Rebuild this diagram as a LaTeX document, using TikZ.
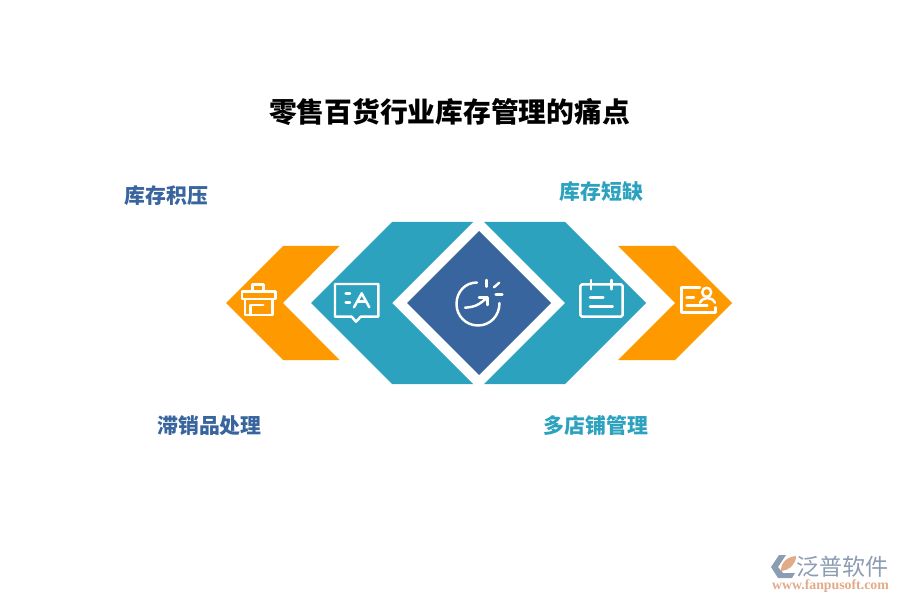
\documentclass[tikz,border=0pt]{standalone}
\usepackage{fontspec}
\setmainfont{Noto Sans CJK SC}
\newfontfamily\urlfont{Liberation Serif}
\usepackage{xcolor}
\definecolor{fporange}{RGB}{255,153,0}
\definecolor{fpteal}{RGB}{44,162,191}
\definecolor{fpblue}{RGB}{56,101,158}
\definecolor{fpgrey}{RGB}{140,156,178}
\definecolor{fptan}{RGB}{226,170,135}
\tikzstyle{painlabel} = [font=\fontsize{17.8}{20}\selectfont\bfseries, inner sep=0pt]
\tikzstyle{iconline} = [draw=white, line width=2.1pt, line cap=round, line join=round]
\begin{document}
\begin{tikzpicture}[x=0.03cm, y=-0.03cm]
\useasboundingbox (0,0) rectangle (900,600);

% Title
\node[font=\fontsize{23.7}{26}\selectfont\bfseries, inner sep=0pt] (title) at (449.5,112) {零售百货行业库存管理的痛点};

% Shapes
\fill[fporange] (226,303) -- (283,246) -- (339.5,246) -- (283,303) -- (339.5,360) -- (283,360) -- cycle;
\fill[fpteal] (311,303) -- (392,222) -- (473,222) -- (392,303) -- (473,384) -- (392,384) -- cycle;
\fill[fpblue] (479,231) -- (551,303) -- (479,375) -- (407,303) -- cycle;
\fill[fpteal] (646,303) -- (565,222) -- (484,222) -- (565,303) -- (484,384) -- (565,384) -- cycle;
\fill[fporange] (732,303) -- (675,246) -- (618,246) -- (675,303) -- (618,360) -- (675,360) -- cycle;

% Labels
\node[painlabel, text=fpblue] (overstock) at (166.5,196) {库存积压};
\node[painlabel, text=fpteal] (shortage) at (601.5,192) {库存短缺};
\node[painlabel, text=fpblue] (slowsell) at (209.5,426) {滞销品处理};
\node[painlabel, text=fpteal] (multistore) at (596,426) {多店铺管理};

% Toolbox icon
\draw[iconline] (252.7,291.7) -- (252.7,284.5) -- (263.3,284.5) -- (263.3,291.7);
\draw[iconline] (242,291.7) rectangle (275.5,299);
\draw[iconline] (245,299) -- (245,315) -- (272.3,315) -- (272.3,299);
\draw[iconline] (250.7,315) -- (250.7,305) -- (263.3,305);

% Speech bubble icon
\draw[iconline] (335,284) -- (378.3,284) -- (378.3,316.7) -- (360.7,316.7) -- (356,321.7) -- (351.7,316.7) -- (335,316.7) -- cycle;
\draw[iconline] (345.7,293.3) -- (350,293.3);
\draw[iconline] (345.7,302.7) -- (350,302.7);
\draw[iconline] (354,307.3) -- (361.7,293.3) -- (369.3,307.3);
\draw[iconline] (357.5,301.7) -- (366,301.7);

% Center icon
\draw[iconline] (477,282.5) .. controls (465,282.5) and (456.5,292) .. (456.5,304) .. controls (456.5,316) and (466,325.5) .. (478,325.5) .. controls (490,325.5) and (499.5,316) .. (499.5,303);
\draw[iconline] (465,307.7) .. controls (476,307) and (480,304) .. (487.3,297.3);
\draw[iconline] (479,297.3) -- (487.3,297.3) -- (487.3,305);
\draw[iconline] (486.7,280) -- (486.7,286.7);
\draw[iconline] (494,287.3) -- (499.3,282.7);
\draw[iconline] (495.7,294.3) -- (502.3,294.3);

% Calendar icon
\draw[iconline, rounded corners=1.5pt] (580.3,284.3) rectangle (622.7,316.7);
\draw[iconline] (591,280) -- (591,289.3);
\draw[iconline] (611.7,280) -- (611.7,289.3);
\draw[iconline] (590,297.3) -- (603.3,297.3);
\draw[iconline] (590,306.3) -- (612.7,306.3);

% Card icon
\draw[iconline] (700,287.3) -- (681.7,287.3) -- (681.7,312.7) -- (715.7,312.7) -- (715.7,307.3);
\draw[iconline] (686.7,297.3) -- (694,297.3);
\draw[iconline] (686.7,305.7) -- (707.3,305.7);
\draw[iconline] (711.2,292.3) .. controls (711.2,286.3) and (702.2,286.3) .. (702.2,292.3) .. controls (702.2,298.3) and (711.2,298.3) .. (711.2,292.3);
\draw[iconline] (700,302.7) .. controls (703,296.5) and (712,296.5) .. (715,302.7);

% Logo
\fill[fpgrey] (779,555) -- (786,555) -- (778,567) -- (783,573) -- (795,573) -- (792,578) -- (778,578) -- (771,567) -- cycle;
\fill[fptan] (781,571) .. controls (781,562) and (787,557) .. (796,556) .. controls (796,564) and (790,570) .. (781,571) -- cycle;
\node[font=\fontsize{19.7}{22}\selectfont, text=fpgrey, inner sep=0pt] (brand) at (842.5,566.5) {泛普软件};
\node[font=\urlfont\fontsize{11.8}{13}\selectfont\bfseries, text=fptan, inner sep=0pt] (site) at (830.5,586) {www.fanpusoft.com};
\end{tikzpicture}
\end{document}
